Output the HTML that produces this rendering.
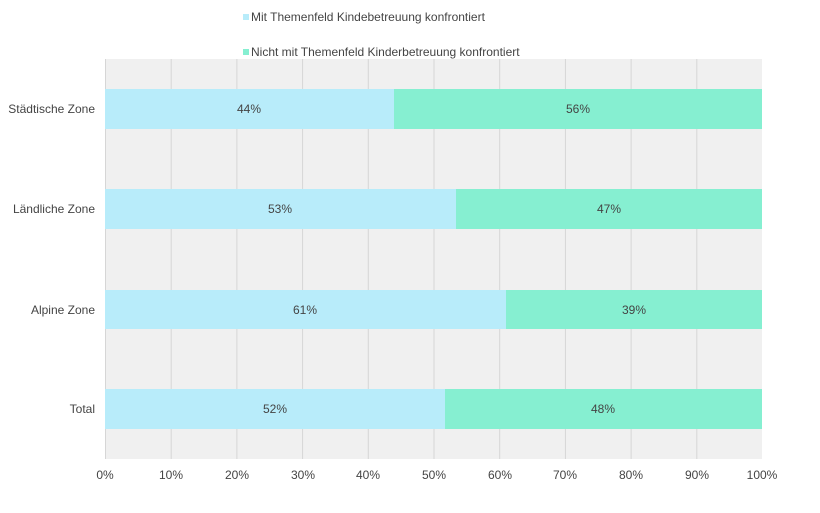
<!DOCTYPE html><html><head><style>body{margin:0;background:#fff}svg{display:block}text{font-family:"Liberation Sans",sans-serif;font-size:12px;fill:#444}</style></head><body>
<svg width="820" height="513" xmlns="http://www.w3.org/2000/svg">
<rect x="105" y="59" width="657" height="400" fill="#f0f0f0"/>
<g stroke="#d6d6d6" stroke-width="1">
<line x1="105.5" y1="59" x2="105.5" y2="459"/><line x1="171.2" y1="59" x2="171.2" y2="459"/><line x1="236.9" y1="59" x2="236.9" y2="459"/><line x1="302.6" y1="59" x2="302.6" y2="459"/><line x1="368.3" y1="59" x2="368.3" y2="459"/><line x1="434" y1="59" x2="434" y2="459"/><line x1="499.7" y1="59" x2="499.7" y2="459"/><line x1="565.4" y1="59" x2="565.4" y2="459"/><line x1="631.1" y1="59" x2="631.1" y2="459"/><line x1="696.8" y1="59" x2="696.8" y2="459"/>
</g>
<rect x="243" y="14" width="6" height="6" fill="#b8ecfa"/><text x="251" y="21">Mit Themenfeld Kindebetreuung konfrontiert</text>
<rect x="243" y="49" width="6" height="6" fill="#86efd1"/><text x="251" y="56">Nicht mit Themenfeld Kinderbetreuung konfrontiert</text>
<g>
<rect x="105" y="89" width="289" height="40" fill="#b8ecfa"/><rect x="394" y="89" width="368" height="40" fill="#86efd1"/>
<rect x="105" y="189" width="351" height="40" fill="#b8ecfa"/><rect x="456" y="189" width="306" height="40" fill="#86efd1"/>
<rect x="105" y="290" width="401" height="39" fill="#b8ecfa"/><rect x="506" y="290" width="256" height="39" fill="#86efd1"/>
<rect x="105" y="389" width="340" height="40" fill="#b8ecfa"/><rect x="445" y="389" width="317" height="40" fill="#86efd1"/>
</g>
<g text-anchor="middle">
<text x="249" y="113">44%</text><text x="578" y="113">56%</text>
<text x="280" y="213">53%</text><text x="609" y="213">47%</text>
<text x="305" y="314">61%</text><text x="634" y="314">39%</text>
<text x="275" y="413">52%</text><text x="603" y="413">48%</text>
<text x="105" y="479">0%</text><text x="171" y="479">10%</text><text x="237" y="479">20%</text><text x="303" y="479">30%</text><text x="368" y="479">40%</text><text x="434" y="479">50%</text><text x="500" y="479">60%</text><text x="565" y="479">70%</text><text x="631" y="479">80%</text><text x="697" y="479">90%</text><text x="762" y="479">100%</text>
</g>
<g text-anchor="end">
<text x="95" y="113">Städtische Zone</text><text x="95" y="213">Ländliche Zone</text><text x="95" y="314">Alpine Zone</text><text x="95" y="413">Total</text>
</g>
</svg></body></html>
